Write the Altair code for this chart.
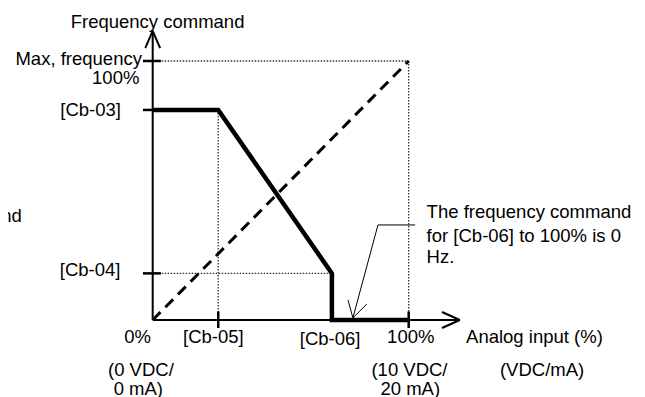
import altair as alt
import pandas as pd

# ---- data (percent units) ----
cb03 = 81.1   # [Cb-03] frequency level (% of max)
cb04 = 18.0   # [Cb-04] frequency level (% of max)
cb05 = 25.6   # [Cb-05] analog input (%)
cb06 = 70.0   # [Cb-06] analog input (%)
max_in = 100.0
max_f = 100.0

# characteristic (thick) curve
curve_x = [0, cb05, cb06, cb06, max_in]
curve_y = [cb03, cb03, cb04, 0, 0]
# reference (dashed) line
ref_x = [0, max_in]
ref_y = [0, max_f]

# axis geometry (data units)
x_axis_end = 120.0
y_axis_end = 111.6

W, H = 629, 389
XD = [-56.52, 189.18]
YD = [-29.73, 120.46]

xs = alt.Scale(domain=XD, zero=False, nice=False)
ys = alt.Scale(domain=YD, zero=False, nice=False)
FONT = "Liberation Sans"
FS = 18.5

def seg_df(segs):
    return pd.DataFrame(segs, columns=["x", "y", "x2", "y2"])

def rules(segs, **kw):
    return alt.Chart(seg_df(segs)).mark_rule(**kw).encode(
        x=alt.X("x:Q", scale=xs, axis=None),
        y=alt.Y("y:Q", scale=ys, axis=None),
        x2="x2:Q", y2="y2:Q")

dotted = rules([
    (0, max_f, max_in, max_f),
    (max_in, max_f, max_in, 0),
    (cb05, cb03, cb05, 0),
    (0, cb04, cb06, cb04),
], color="#333333", strokeWidth=1.3, strokeDash=[1.5, 1.5])

axes = rules([
    (0, 0, 0, y_axis_end),
    (0, 0, x_axis_end, 0),
    (0, y_axis_end, -2.9, 105.0),
    (0, y_axis_end, 2.9, 105.0),
    (x_axis_end, 0, 113.0, 3.1),
    (x_axis_end, 0, 113.0, -3.1),
], color="black", strokeWidth=2)

ticks = rules([
    (-3.8, max_f, 3.2, max_f),
    (-3.8, cb03, 3.2, cb03),
    (-3.8, cb04, 3.2, cb04),
    (cb05, 3.3, cb05, -3.1),
    (max_in, 3.3, max_in, -3.1),
], color="black", strokeWidth=2.5)

pointer = rules([
    (102.5, 36.7, 88.0, 36.7),
    (88.0, 36.7, 78.2, 0.8),
    (78.2, 0.8, 76.3, 7.7),
    (78.2, 0.8, 83.7, 6.2),
], color="black", strokeWidth=1)

ref_df = pd.DataFrame({"x": ref_x, "y": ref_y, "o": range(len(ref_x))})
ref = alt.Chart(ref_df).mark_line(color="black", strokeWidth=3, strokeDash=[11, 7]).encode(
    x=alt.X("x:Q", scale=xs, axis=None), y=alt.Y("y:Q", scale=ys, axis=None), order="o:O")

curve_df = pd.DataFrame({"x": curve_x, "y": curve_y, "o": range(len(curve_x))})
curve = alt.Chart(curve_df).mark_line(color="black", strokeWidth=4.5, strokeJoin="miter").encode(
    x=alt.X("x:Q", scale=xs, axis=None), y=alt.Y("y:Q", scale=ys, axis=None), order="o:O")

labels = pd.DataFrame([
    ("Frequency command", 1.9, 112.7, "center"),
    ("Max, frequency", -4.2, 98.5, "right"),
    ("100%", -5.2, 91.3, "right"),
    ("[Cb-03]", -12.4, 78.8, "right"),
    ("[Cb-04]", -12.6, 17.0, "right"),
    ("0%", -5.9, -8.9, "center"),
    ("[Cb-05]", 23.7, -8.9, "center"),
    ("[Cb-06]", 69.3, -9.8, "center"),
    ("100%", 100.8, -8.9, "center"),
    ("Analog input (%)", 122.4, -9.0, "left"),
    ("(0 VDC/", -4.6, -21.6, "center"),
    ("0 mA)", -5.6, -28.8, "center"),
    ("(10 VDC/", 100.3, -21.6, "center"),
    ("20 mA)", 100.6, -28.8, "center"),
    ("(VDC/mA)", 152.1, -21.6, "center"),
    ("The frequency command", 107.0, 39.2, "left"),
    ("for [Cb-06] to 100% is 0", 107.0, 30.1, "left"),
    ("Hz.", 107.0, 22.0, "left"),
    ("Frequency command", -51.1, 37.8, "right"),
], columns=["t", "x", "y", "a"])

def text_layer(align):
    d = labels[labels.a == align]
    return alt.Chart(d).mark_text(align=align, baseline="alphabetic", font=FONT,
                                  fontSize=FS, color="black").encode(
        x=alt.X("x:Q", scale=xs, axis=None), y=alt.Y("y:Q", scale=ys, axis=None), text="t:N")

chart = alt.layer(
    dotted, ref, axes, ticks, curve, pointer,
    text_layer("left"), text_layer("center"), text_layer("right"),
).properties(
    width=W, height=H, autosize=alt.AutoSizeParams(type="none"), padding=0
).configure_view(stroke=None)

chart.save("out.html", embed_options={"renderer": "svg", "actions": False})
